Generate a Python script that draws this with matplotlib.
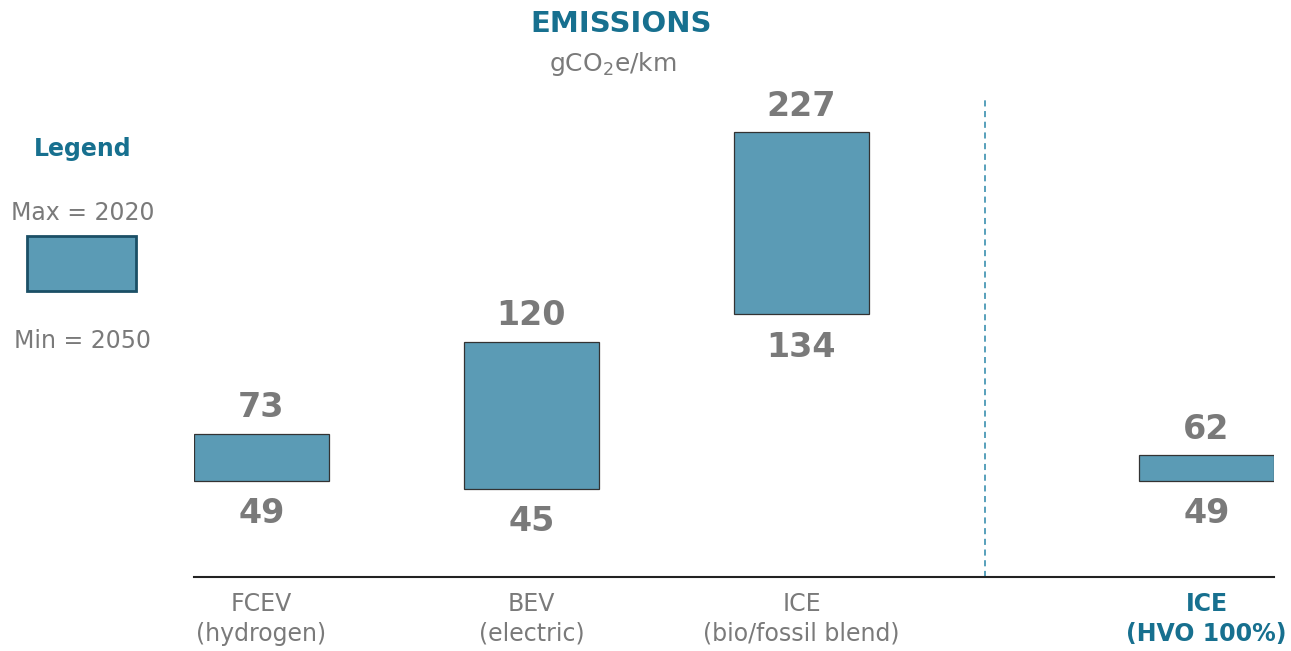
import matplotlib
matplotlib.use("Agg")
import matplotlib.pyplot as plt
from matplotlib.patches import Rectangle

plt.rcParams['font.family'] = ['DejaVu Sans']
plt.rcParams['mathtext.default'] = 'regular'

# --- Data: emissions range per drivetrain (2050 min, 2020 max) ---
categories = ['FCEV\n(hydrogen)', 'BEV\n(electric)', 'ICE\n(bio/fossil blend)', 'ICE\n(HVO 100%)']
positions = [0, 1, 2, 3.5]
min_2050 = [49, 45, 134, 49]
max_2020 = [73, 120, 227, 62]

BAR_COLOR = '#5b9bb5'
TEAL = '#17708f'
GRAY = '#7a7a7a'

fig = plt.figure(figsize=(12.91, 6.51), dpi=100)
ax = fig.add_axes([194 / 1291, 1 - 577 / 651, 1080 / 1291, 490 / 651])

heights = [hi - lo for lo, hi in zip(min_2050, max_2020)]
ax.bar(positions, heights, bottom=min_2050, width=0.5,
       color=BAR_COLOR, edgecolor='#333333', linewidth=0.9, zorder=3)

# value labels above / below each bar
for x, lo, hi in zip(positions, min_2050, max_2020):
    ax.annotate(str(hi), (x, hi), xytext=(0, 26), textcoords='offset pixels',
                ha='center', va='center', fontsize=24, fontweight='bold', color=GRAY)
    ax.annotate(str(lo), (x, lo), xytext=(0, -33), textcoords='offset pixels',
                ha='center', va='center', fontsize=24, fontweight='bold', color=GRAY)

# separator between fleet blends and pure HVO
ax.plot([2.68, 2.68], [0, 245], linestyle=(0, (4, 3)), color='#2a86a8',
        linewidth=1.1, clip_on=False, zorder=2)

ax.set_xlim(-0.25, 3.75)
ax.set_ylim(0, 250)
ax.set_yticks([])
ax.set_xticks(positions)
ax.set_xticklabels(categories, fontsize=17, color=GRAY, linespacing=1.3)
ax.tick_params(axis='x', length=0, pad=11)
hvo = ax.get_xticklabels()[-1]
hvo.set_color(TEAL)
hvo.set_fontweight('bold')

for side in ['top', 'right', 'left']:
    ax.spines[side].set_visible(False)
ax.spines['bottom'].set_color('#222222')
ax.spines['bottom'].set_linewidth(1.5)

# title block
fig.text(621 / 1291, 1 - 24 / 651, 'EMISSIONS', ha='center', va='center',
         fontsize=21, fontweight='bold', color=TEAL)
fig.text(613 / 1291, 1 - 64 / 651, 'gCO$_2$e/km', ha='center', va='center',
         fontsize=18, color=GRAY)

# legend block on the left
fig.text(83 / 1291, 1 - 149 / 651, 'Legend', ha='center', va='center',
         fontsize=17, fontweight='bold', color=TEAL)
fig.text(83 / 1291, 1 - 213 / 651, 'Max = 2020', ha='center', va='center',
         fontsize=17, color=GRAY)
fig.text(83 / 1291, 1 - 341 / 651, 'Min = 2050', ha='center', va='center',
         fontsize=17, color=GRAY)
fig.patches.append(Rectangle((27 / 1291, 1 - 291 / 651), 109 / 1291, 55 / 651,
                             transform=fig.transFigure, facecolor=BAR_COLOR,
                             edgecolor='#1b4f66', linewidth=2))

fig.savefig('out.png', dpi=100)
